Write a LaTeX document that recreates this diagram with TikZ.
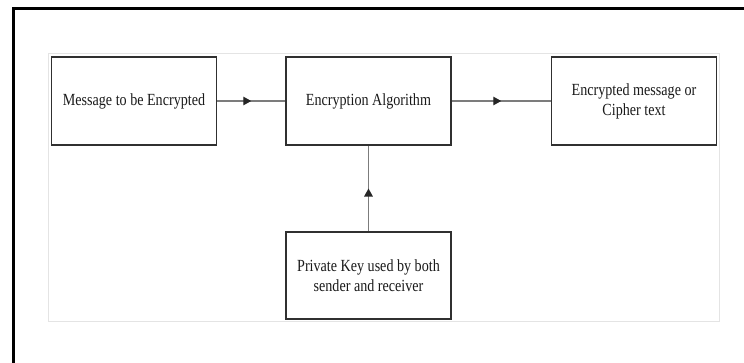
\documentclass[tikz,border=0pt]{standalone}
\usepackage{fontspec}
\setmainfont[FakeStretch=0.83]{Liberation Serif}
\usetikzlibrary{arrows.meta,decorations.markings}

\definecolor{framecol}{HTML}{000000}
\definecolor{panelcol}{HTML}{E4E4E4}
\definecolor{boxcol}{HTML}{303030}
\definecolor{linkcol}{HTML}{7C7C7C}
\definecolor{tipcol}{HTML}{262626}
\definecolor{textcol}{HTML}{1A1A1A}

\tikzset{
  stagebox/.style={draw=boxcol, line width=1.6pt, fill=white,
    minimum width=165pt, minimum height=88pt, inner sep=0pt,
    align=center, text=textcol,
    font=\fontsize{17}{20}\selectfont},
  flowlink/.style={draw=linkcol, line width=1.3pt,
    postaction={decorate},
    decoration={markings,
      mark=at position 0.5 with {\arrow[tipcol]{Triangle[length=8pt,width=8.5pt]}}}}
}

\begin{document}
\begin{tikzpicture}[x=1pt,y=-1pt]
  \useasboundingbox (0,0) rectangle (744,362);
  \clip (0,0) rectangle (744,362);

  % outer frame, running off the right and bottom edges
  \draw[framecol, line width=3pt] (13.5,380) -- (13.5,8.5) -- (760,8.5);

  % light panel behind the diagram
  \draw[panelcol, line width=1pt] (48,53) rectangle (719,321);

  % stages
  \node[stagebox] (msg) at (134,101)   {Message to be Encrypted};
  \node[stagebox] (alg) at (368.5,101) {Encryption Algorithm};
  \node[stagebox] (out) at (634,101)   {Encrypted message or\\Cipher text};
  \node[stagebox, minimum height=87pt] (key) at (368.5,275.5)
    {Private Key used by both\\sender and receiver};

  % data flow
  \draw[flowlink] (msg.east) -- (alg.west);
  \draw[flowlink] (alg.east) -- (out.west);
  \draw[flowlink] (key.north) -- (alg.south);
\end{tikzpicture}
\end{document}
